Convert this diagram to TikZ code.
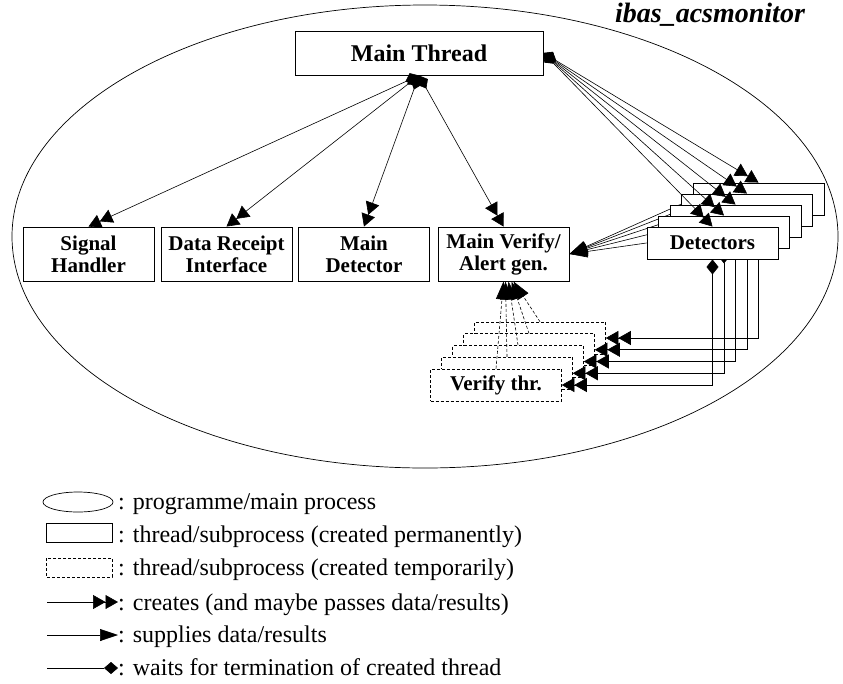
\documentclass[tikz,border=0pt]{standalone}
\usepackage{fontspec}
\setmainfont{Liberation Serif}
\usepackage{tikz}
\usetikzlibrary{arrows.meta}
\pgfdeclarelayer{back}
\pgfdeclarelayer{front}
\pgfsetlayers{back,main,front}
\tikzset{thr/.style={rectangle,draw,fill=white,line width=0.9pt,minimum width=131pt,minimum height=54pt,inner sep=0pt,align=center,font=\fontsize{21}{22}\selectfont\bfseries},
    stk/.style={thr,minimum height=32pt},
    tmp/.style={stk,line width=0.6pt,dash pattern=on 3pt off 2pt},
    creates/.style={line width=0.6pt,-{Triangle[length=12.5pt,width=14pt,sep=0pt]Triangle[length=12.5pt,width=14pt]}},
    wcreates/.style={line width=0.6pt,{Diamond[length=15pt,width=12pt]}-{Triangle[length=12.5pt,width=14pt,sep=0pt]Triangle[length=12.5pt,width=14pt]}},
    supplies/.style={line width=0.6pt,-{Triangle[length=18pt,width=12pt]}},
    waits/.style={line width=0.6pt,-{Diamond[length=14pt,width=12pt]}},
    legtext/.style={anchor=base west,inner sep=0pt,font=\fontsize{24}{26}\selectfont}}

\begin{document}
\begin{tikzpicture}[x=1pt,y=-1pt]
    \useasboundingbox (0,0) rectangle (843,683);

    \node[thr,minimum width=248pt,minimum height=44pt,font=\fontsize{24}{26}\selectfont\bfseries] (mt)at (419,53) {Main Thread};
    \node[anchor=base,inner sep=0pt,font=\fontsize{28}{30}\selectfont\bfseries\itshape] (title)at (710,22) {ibas\_acsmonitor};

    \node[thr] (sh)at (88.5,254) {Signal\\Handler};
    \node[thr] (dr)at (226.5,254) {Data Receipt\\Interface};
    \node[thr] (md)at (364,254) {Main\\Detector};
    \node[thr] (mv)at (503.5,254) {Main Verify/\\Alert gen.};

    % detectors, back to front
    \node[stk] (d4)at (758.5,199) {};
    \node[stk] (d3)at (747,210) {};
    \node[stk] (d2)at (735.5,221) {};
    \node[stk] (d1)at (724,232) {};
    \node[stk] (d0)at (712.5,243) {Detectors};

    \begin{pgfonlayer}{back}
    \draw[line width=0.7pt] (425,236.5) ellipse [x radius=413,y radius=231.5];

    % verify threads, back to front
    \node[tmp] (v4)at (540,338) {};
    \node[tmp] (v3)at (529,349.75) {};
    \node[tmp] (v2)at (518,361.5) {};
    \node[tmp] (v1)at (507,373.25) {};
    \node[tmp] (v0)at (496,385) {Verify thr.};

    \draw [supplies] (d0.west) to (mv.east);
    \draw [supplies] (d1.west) to (mv.east);
    \draw [supplies] (d2.west) to (mv.east);
    \draw [supplies] (d3.west) to (mv.east);
    \draw [supplies] (d4.west) to (mv.east);

    \draw [wcreates] (d0.south) |- (v0.east);
    \draw [wcreates] (d1.south) |- (v1.east);
    \draw [wcreates] (d2.south) |- (v2.east);
    \draw [wcreates] (d3.south) |- (v3.east);
    \draw [wcreates] (d4.south) |- (v4.east);

    \draw [supplies,dash pattern=on 3pt off 2pt] (v0.north) to ([xshift=0pt]mv.south);
    \draw [supplies,dash pattern=on 3pt off 2pt] (v1.north) to ([xshift=2pt]mv.south);
    \draw [supplies,dash pattern=on 3pt off 2pt] (v2.north) to ([xshift=5pt]mv.south);
    \draw [supplies,dash pattern=on 3pt off 2pt] (v3.north) to ([xshift=8pt]mv.south);
    \draw [supplies,dash pattern=on 3pt off 2pt] (v4.north) to ([xshift=10pt]mv.south);
    \end{pgfonlayer}

    \begin{pgfonlayer}{front}
    \draw [wcreates] (mt.south) to (sh.north);
    \draw [wcreates] (mt.south) to (dr.north);
    \draw [wcreates] (mt.south) to (md.north);
    \draw [wcreates] (mt.south) to (mv.north);

    \draw [wcreates] (mt.east) to (d0.north);
    \draw [wcreates] (mt.east) to (d1.north);
    \draw [wcreates] (mt.east) to (d2.north);
    \draw [wcreates] (mt.east) to (d3.north);
    \draw [wcreates] (mt.east) to (d4.north);
    \end{pgfonlayer}

    % legend
    \draw[line width=0.7pt] (78,502) ellipse [x radius=35,y radius=10];
    \draw[line width=0.7pt] (46,523) rectangle (112,542);
    \draw[line width=0.6pt,dash pattern=on 3pt off 2pt] (46,558) rectangle (112,577);
    \node[legtext] (l1)at (118,509) {: programme/main process};
    \node[legtext] (l2)at (118,542) {: thread/subprocess (created permanently)};
    \node[legtext] (l3)at (118,575) {: thread/subprocess (created temporarily)};
    \node[legtext] (l4)at (118,610) {: creates (and maybe passes data/results)};
    \node[legtext] (l5)at (118,642) {: supplies data/results};
    \node[legtext] (l6)at (118,675) {: waits for termination of created thread};
    \coordinate (a4) at (47,602);
    \coordinate (a5) at (47,635);
    \coordinate (a6) at (47,668);
    \draw [creates] (a4) to (a4 -| l4.west);
    \draw [supplies] (a5) to (a5 -| l5.west);
    \draw [waits] (a6) to (a6 -| l6.west);
\end{tikzpicture}
\end{document}
